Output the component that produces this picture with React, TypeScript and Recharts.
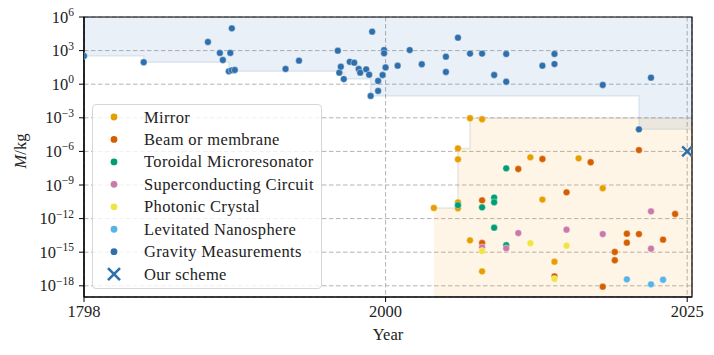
import React from 'react';
import { ComposedChart, Area, Scatter, XAxis, YAxis, CartesianGrid, ReferenceArea, Legend } from 'recharts';

// ---- data: [year, log10(M / kg)] ----
const mirror: [number, number][] = [
  [2004, -11.05], [2006, -5.73], [2006, -6.71], [2006, -10.55], [2006, -11.08],
  [2007, -3.04], [2007, -13.94], [2008, -3.13], [2008, -16.71], [2012, -6.53],
  [2013, -10.3], [2014, -15.85], [2016, -6.62], [2018, -9.29],
];
const beam: [number, number][] = [
  [2008, -10.37], [2008, -14.18], [2011, -7.57], [2013, -6.68], [2014, -17.15],
  [2015, -9.65], [2017, -6.97], [2018, -18.08], [2019, -14.98], [2019, -15.72],
  [2020, -13.35], [2020, -14.15], [2021, -5.88], [2021, -13.38], [2023, -13.88], [2024, -11.59],
];
const toroidal: [number, number][] = [
  [2006, -10.8], [2008, -10.99], [2009, -10.13], [2009, -10.54], [2009, -12.81],
  [2010, -7.51], [2010, -14.38],
];
const superconducting: [number, number][] = [
  [2008, -14.56], [2010, -14.65], [2011, -13.29], [2015, -12.99], [2018, -13.38],
  [2022, -11.35], [2022, -14.69],
];
const photonic: [number, number][] = [
  [2008, -14.89], [2012, -14.2], [2014, -17.39], [2015, -14.42],
];
const levitated: [number, number][] = [
  [2020, -17.42], [2022, -17.87], [2023, -17.46],
];
const gravity: [number, number][] = [
  [1798, 2.52], [1838, 1.96], [1881, 3.77], [1889, 2.79], [1891, 2.16], [1895, 1.15],
  [1896, 2.79], [1897, 4.99], [1897, 1.24], [1899, 1.27], [1933, 1.36], [1942, 2.1],
  [1968, 2.99], [1969, 1.03], [1970, 1.56], [1972, 0.46], [1976, 2.0], [1979, 1.92],
  [1982, 1.36], [1983, 1.03], [1987, 1.33], [1989, 0.85], [1990, -1.05], [1991, 4.69],
  [1995, 0.29], [1995, -0.6], [1998, 0.82], [1999, 3.05], [1999, 2.76], [2000, 1.5],
  [2001, 1.65], [2002, 3.05], [2003, 1.78], [2005, 2.46], [2005, 1.09], [2006, 4.15],
  [2007, 2.73], [2008, 2.73], [2009, 0.82], [2010, 2.7], [2010, 0.22], [2013, 1.65],
  [2014, 2.7], [2014, 1.8], [2018, -0.07], [2021, -4.03], [2022, 0.58],
];
const ourScheme: [number, number][] = [[2025, -6]];

const seriesNames = [
  'Mirror', 'Beam or membrane', 'Toroidal Microresonator', 'Superconducting Circuit',
  'Photonic Crystal', 'Levitated Nanosphere', 'Gravity Measurements', 'Our scheme',
];
const seriesColors = ['#E69F00', '#D55E00', '#009E73', '#CC79A7', '#F0E442', '#56B4E9', '#2F70AC', '#2F70AC'];
const xTickYears = [1798, 2000, 2025];
const yTickExps = [-18, -15, -12, -9, -6, -3, 0, 3, 6];
const Y_MIN = -19;
const Y_MAX = 6;
const X_MAX_YEAR = 2025.4;

// broken x-scale: 1798..2000 and 2000..2025 each take half of the axis
const toU = (yr: number) => (yr <= 2000 ? (yr - 1798) / 202 : 1 + (yr - 2000) / 25);
const U_MAX = toU(X_MAX_YEAR);

const toPts = (arr: [number, number][]) => arr.map(([yr, v]) => ({ u: toU(yr), v }));

// step envelopes built from the data
const quantum = [...mirror, ...beam, ...toroidal, ...superconducting, ...photonic, ...levitated];
function envelope(arr: [number, number][], fn: (a: number, b: number) => number) {
  const sorted = [...arr].sort((a, b) => a[0] - b[0]);
  const out: [number, number][] = [];
  let cur: number | null = null;
  for (const [yr, v] of sorted) {
    const nv = cur === null ? v : fn(cur, v);
    if (cur === null || nv !== cur) {
      if (out.length && out[out.length - 1][0] === yr) out[out.length - 1][1] = nv;
      else out.push([yr, nv]);
      cur = nv;
    }
  }
  return out;
}
const gravEnv = envelope(gravity, Math.min);
const quantEnv = envelope(quantum, Math.max);
const evalEnv = (env: [number, number][], yr: number) => {
  let val: number | null = null;
  for (const [y, v] of env) if (y <= yr) val = v;
  return val;
};
const breakYears = Array.from(new Set([...gravEnv.map((d) => d[0]), ...quantEnv.map((d) => d[0]), X_MAX_YEAR])).sort((a, b) => a - b);
const envTable = breakYears.map((yr) => {
  const g = evalEnv(gravEnv, yr);
  const q = evalEnv(quantEnv, yr);
  return {
    u: toU(yr),
    grav: g === null ? null : [g, Y_MAX],
    quant: q === null ? null : [Y_MIN, q],
  };
});

const FONT = '"Liberation Serif", "Times New Roman", serif';
const FS = 16.5;

const makeDot = (color: string) => (p: any) => (
  <circle cx={p.cx} cy={p.cy} r={3.4} fill={color} stroke="#ffffff" strokeWidth={0.4} />
);
const crossShape = (p: any) => (
  <g stroke="#2F70AC" strokeWidth={2.4} strokeLinecap="butt">
    <line x1={p.cx - 5} y1={p.cy - 5} x2={p.cx + 5} y2={p.cy + 5} />
    <line x1={p.cx - 5} y1={p.cy + 5} x2={p.cx + 5} y2={p.cy - 5} />
  </g>
);

const YTick = (props: any) => {
  const { x, y, payload } = props;
  const e = payload.value as number;
  const s = e < 0 ? '\u2212' + Math.abs(e) : String(e);
  return (
    <text x={x - 3} y={y + 5.5} textAnchor="end" fontFamily={FONT} fontSize={FS} fill="#222">
      <tspan>10</tspan>
      <tspan dy={-6.5} fontSize={11.5}>{s}</tspan>
    </text>
  );
};

const XTick = (props: any) => {
  const { x, y, payload } = props;
  const idx = [0, 1, 2].indexOf(Math.round(payload.value));
  const label = idx >= 0 ? String(xTickYears[idx]) : '';
  return (
    <text x={x} y={y + 13} textAnchor="middle" fontFamily={FONT} fontSize={FS} fill="#222">
      {label}
    </text>
  );
};

const LegendBox = () => (
  <div style={{ width: 230, height: 185, boxSizing: 'border-box', border: '1px solid #d6d6d6', borderRadius: 4, background: 'rgba(255,255,255,0.8)' }}>
    <svg width={228} height={183} style={{ display: 'block' }}>
      {seriesNames.map((name, i) => {
        const cy = 12 + i * 22.45;
        return (
          <g key={name}>
            {i === 7 ? (
              <g stroke={seriesColors[i]} strokeWidth={2.6}>
                <line x1={15} y1={cy - 6} x2={27} y2={cy + 6} />
                <line x1={15} y1={cy + 6} x2={27} y2={cy - 6} />
              </g>
            ) : (
              <circle cx={21} cy={cy} r={3.4} fill={seriesColors[i]} />
            )}
            <text x={51} y={cy + 5.5} fontFamily={FONT} fontSize={FS} letterSpacing={0.35} fill="#222">{name}</text>
          </g>
        );
      })}
    </svg>
  </div>
);

const scatterSets: [number, number][][] = [mirror, beam, toroidal, superconducting, photonic, levitated, gravity];

export default function App() {
  return (
    <div style={{ marginTop: -4 }}>
      <ComposedChart width={698} height={343} data={envTable} margin={{ top: 13, right: 14, bottom: 0, left: 0 }}>
        <CartesianGrid stroke="#b3b3b3" strokeDasharray="4.5 2.5" strokeWidth={1} horizontal vertical />
        <XAxis
          dataKey="u"
          type="number"
          domain={[0, U_MAX]}
          allowDataOverflow
          ticks={[0, 1, 2]}
          tick={<XTick />}
          tickSize={5}
          height={50}
          stroke="#000"
          axisLine={{ stroke: '#000', strokeWidth: 1.2 }}
          tickLine={{ stroke: '#000' }}
          label={{ value: 'Year', position: 'insideBottom', offset: 7, fontFamily: FONT, fontSize: FS, fill: '#222' }}
        />
        <YAxis
          dataKey="v"
          type="number"
          domain={[Y_MIN, Y_MAX]}
          allowDataOverflow
          ticks={yTickExps}
          tick={<YTick />}
          tickSize={5}
          width={76}
          axisLine={{ stroke: '#000', strokeWidth: 1.2 }}
          tickLine={{ stroke: '#000' }}
          label={{
            content: () => (
              <text x={12} y={147} transform="rotate(-90 12 147)" textAnchor="middle" dominantBaseline="central" fontFamily={FONT} fontSize={FS} fill="#222">
                <tspan fontStyle="italic">M</tspan>
                <tspan>/kg</tspan>
              </text>
            ),
          }}
        />
        <Area
          type="stepAfter"
          dataKey={(d: any) => d.grav}
          fill="#2F70AC"
          fillOpacity={0.1}
          stroke="#2F70AC"
          strokeOpacity={0.12}
          strokeWidth={1.5}
          isAnimationActive={false}
          dot={false}
          activeDot={false}
        />
        <Area
          type="stepAfter"
          dataKey={(d: any) => d.quant}
          fill="#F2A51A"
          fillOpacity={0.11}
          stroke="#9a9a9a"
          strokeOpacity={0.22}
          strokeWidth={1.5}
          isAnimationActive={false}
          dot={false}
          activeDot={false}
        />
        {scatterSets.map((set, i) => (
          <Scatter
            key={seriesNames[i]}
            name={seriesNames[i]}
            data={toPts(set)}
            dataKey="v"
            fill={seriesColors[i]}
            shape={makeDot(seriesColors[i])}
            isAnimationActive={false}
          />
        ))}
        <Scatter name={seriesNames[7]} data={toPts(ourScheme)} dataKey="v" fill={seriesColors[7]} shape={crossShape} isAnimationActive={false} />
        <ReferenceArea x1={0} x2={U_MAX} y1={Y_MIN} y2={Y_MAX} fill="none" stroke="#000" strokeWidth={1.2} ifOverflow="visible" />
        <Legend
          layout="horizontal"
          align="center"
          verticalAlign="middle"
          wrapperStyle={{ left: 84, top: 100, width: 230, height: 185 }}
          content={() => <LegendBox />}
        />
      </ComposedChart>
    </div>
  );
}
